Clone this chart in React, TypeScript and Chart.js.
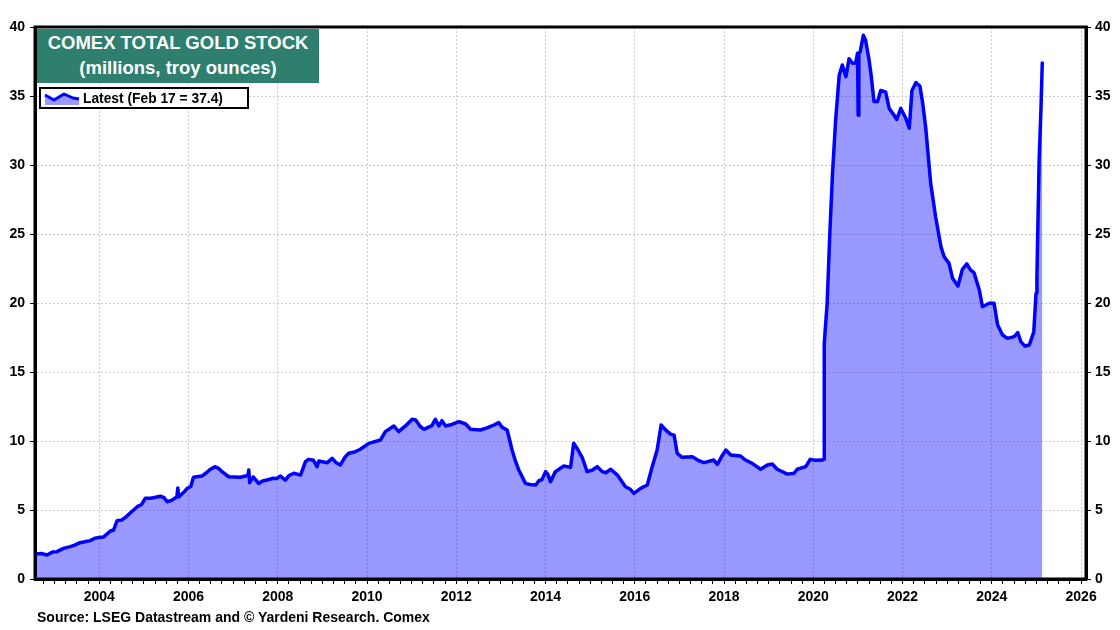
import React, { useEffect, useRef } from "react";
import { Chart, registerables } from "chart.js";

Chart.register(...registerables);

// Decimal-year dates of the observations
const dates: number[] = [
  2002.57, 2002.7, 2002.83, 2002.95, 2003.05, 2003.2, 2003.35, 2003.45, 2003.57, 2003.7,
  2003.8, 2003.9, 2003.98, 2004.1, 2004.25, 2004.32, 2004.4, 2004.51, 2004.6, 2004.7,
  2004.85, 2004.95, 2005.03, 2005.15, 2005.26, 2005.37, 2005.45, 2005.52, 2005.62, 2005.74,
  2005.76, 2005.78, 2005.9, 2005.97, 2006.05, 2006.11, 2006.3, 2006.4, 2006.49, 2006.6,
  2006.68, 2006.75, 2006.9, 2007.16, 2007.33, 2007.35, 2007.37, 2007.45, 2007.57, 2007.66,
  2007.76, 2007.9, 2007.98, 2008.06, 2008.17, 2008.25, 2008.36, 2008.51, 2008.62, 2008.69,
  2008.8, 2008.88, 2008.92, 2009.11, 2009.22, 2009.3, 2009.4, 2009.5, 2009.59, 2009.72,
  2009.85, 2010.04, 2010.3, 2010.41, 2010.6, 2010.71, 2010.86, 2011.01, 2011.09, 2011.18,
  2011.27, 2011.38, 2011.45, 2011.53, 2011.61, 2011.68, 2011.76, 2011.9, 2012.06, 2012.21,
  2012.32, 2012.54, 2012.69, 2012.84, 2012.95, 2013.03, 2013.14, 2013.25, 2013.33, 2013.4,
  2013.55, 2013.65, 2013.78, 2013.85, 2013.92, 2014.0, 2014.05, 2014.11, 2014.22, 2014.41,
  2014.56, 2014.63, 2014.7, 2014.82, 2014.93, 2015.05, 2015.16, 2015.27, 2015.35, 2015.46,
  2015.61, 2015.79, 2015.9, 2015.98, 2016.13, 2016.28, 2016.39, 2016.5, 2016.59, 2016.69,
  2016.8, 2016.88, 2016.95, 2017.06, 2017.29, 2017.42, 2017.55, 2017.77, 2017.85, 2017.95,
  2018.04, 2018.15, 2018.37, 2018.48, 2018.63, 2018.82, 2018.97, 2019.08, 2019.19, 2019.42,
  2019.57, 2019.64, 2019.83, 2019.93, 2020.05, 2020.2, 2020.24, 2020.245, 2020.31, 2020.37,
  2020.43, 2020.5, 2020.58, 2020.65, 2020.73, 2020.8, 2020.88, 2020.95, 2020.99, 2021.005,
  2021.02, 2021.05, 2021.12, 2021.17, 2021.25, 2021.29, 2021.36, 2021.44, 2021.51, 2021.62,
  2021.7, 2021.81, 2021.87, 2021.96, 2022.07, 2022.15, 2022.21, 2022.3, 2022.39, 2022.45,
  2022.52, 2022.63, 2022.74, 2022.86, 2022.93, 2023.04, 2023.12, 2023.24, 2023.34, 2023.44,
  2023.52, 2023.6, 2023.72, 2023.79, 2023.94, 2024.05, 2024.13, 2024.24, 2024.35, 2024.5,
  2024.58, 2024.65, 2024.74, 2024.84, 2024.94, 2024.99, 2025.01, 2025.06, 2025.1, 2025.13,
];

// COMEX total gold stock, millions of troy ounces
const goldStock: number[] = [
  1.81, 1.85, 1.74, 1.95, 1.98, 2.22, 2.35, 2.45, 2.63, 2.72,
  2.78, 2.95, 3.0, 3.05, 3.48, 3.55, 4.23, 4.28, 4.5, 4.8,
  5.24, 5.4, 5.85, 5.85, 5.92, 6.0, 5.9, 5.6, 5.7, 5.96,
  6.6, 5.95, 6.3, 6.57, 6.7, 7.37, 7.46, 7.7, 7.95, 8.14,
  8.0, 7.78, 7.41, 7.37, 7.5, 7.9, 6.98, 7.4, 6.93, 7.1,
  7.17, 7.3, 7.29, 7.46, 7.17, 7.5, 7.66, 7.53, 8.5, 8.67,
  8.6, 8.14, 8.55, 8.43, 8.74, 8.45, 8.26, 8.8, 9.11, 9.2,
  9.4, 9.83, 10.07, 10.68, 11.09, 10.68, 11.09, 11.57, 11.52, 11.1,
  10.85, 11.0, 11.1, 11.57, 11.1, 11.47, 11.09, 11.2, 11.4, 11.23,
  10.85, 10.8, 10.95, 11.16, 11.33, 10.99, 10.8, 9.35, 8.5, 7.9,
  6.93, 6.85, 6.81, 7.12, 7.2, 7.78, 7.6, 7.05, 7.78, 8.19,
  8.09, 9.83, 9.5, 8.82, 7.78, 7.9, 8.14, 7.78, 7.7, 7.95,
  7.53, 6.69, 6.5, 6.21, 6.57, 6.81, 8.14, 9.35, 11.16, 10.8,
  10.5, 10.43, 9.11, 8.82, 8.86, 8.6, 8.43, 8.62, 8.3, 8.9,
  9.35, 8.99, 8.91, 8.62, 8.38, 7.95, 8.26, 8.33, 7.95, 7.6,
  7.66, 7.95, 8.14, 8.67, 8.6, 8.62, 8.67, 17.08, 19.98, 25.05,
  29.4, 33.26, 36.5, 37.25, 36.4, 37.7, 37.37, 37.4, 38.1, 33.6,
  38.1, 38.2, 39.4, 39.06, 37.6, 36.65, 34.6, 34.6, 35.4, 35.3,
  34.1, 33.6, 33.3, 34.1, 33.4, 32.66, 35.4, 35.97, 35.7, 34.5,
  32.66, 28.67, 26.25, 24.08, 23.36, 22.88, 21.79, 21.23, 22.44, 22.83,
  22.4, 22.2, 20.94, 19.73, 19.98, 19.98, 18.4, 17.68, 17.44, 17.56,
  17.85, 17.2, 16.88, 16.96, 17.92, 20.7, 21.9, 30.36, 33.99, 37.4,
];

const xMin = 2002.56;
const xMax = 2026.11;
const yTicks: number[] = [0, 5, 10, 15, 20, 25, 30, 35, 40];
const yearLabels: number[] = [2004, 2006, 2008, 2010, 2012, 2014, 2016, 2018, 2020, 2022, 2024, 2026];

const titleLine1 = "COMEX TOTAL GOLD STOCK";
const titleLine2 = "(millions, troy ounces)";
const legendLabel = "Latest (Feb 17 = 37.4)";
const sourceText = "Source: LSEG Datastream and \u00A9 Yardeni Research. Comex";

const FONT = "Arial, 'Liberation Sans', Helvetica, sans-serif";

export default function App() {
  const canvasRef = useRef<HTMLCanvasElement | null>(null);

  useEffect(() => {
    const canvas = canvasRef.current;
    if (!canvas) return;
    const points = dates.map((d, i) => ({ x: d, y: goldStock[i] }));

    const framePlugin = {
      id: "frame",
      afterDraw(chart: any) {
        const { ctx, chartArea } = chart;
        ctx.save();
        ctx.setLineDash([]);
        ctx.strokeStyle = "#000";
        ctx.lineWidth = 3;
        ctx.strokeRect(chartArea.left, chartArea.top, chartArea.right - chartArea.left, chartArea.bottom - chartArea.top);
        ctx.restore();
      },
    };

    const isLabelYear = (v: number) => yearLabels.includes(v);

    const chart = new Chart(canvas, {
      type: "line",
      data: {
        datasets: [
          {
            label: legendLabel,
            data: points,
            borderColor: "#0000ff",
            borderWidth: 3.5,
            backgroundColor: "rgba(0,0,255,0.4)",
            fill: "origin",
            pointRadius: 0,
            tension: 0,
            borderJoinStyle: "round",
            borderCapStyle: "round",
          },
        ],
      },
      options: {
        animation: false,
        responsive: false,
        maintainAspectRatio: false,
        layout: { padding: { top: 27, left: 0, right: 0, bottom: 0 } },
        plugins: {
          legend: { display: false },
          tooltip: { enabled: false },
        },
        scales: {
          x: {
            type: "linear",
            min: xMin,
            max: xMax,
            afterBuildTicks: (scale: any) => {
              const t: { value: number }[] = [];
              for (let k = 0; ; k++) {
                const v = 2002.75 + 0.25 * k;
                if (v > 2026) break;
                t.push({ value: v });
              }
              scale.ticks = t;
            },
            afterFit: (scale: any) => {
              scale.height = 51;
            },
            ticks: {
              autoSkip: false,
              maxRotation: 0,
              minRotation: 0,
              padding: 5,
              color: "#000",
              font: { family: FONT, size: 14, weight: "bold" },
              callback: (v: any) => (isLabelYear(Number(v)) ? String(v) : ""),
            },
            grid: {
              color: (ctx: any) =>
                ctx.tick && isLabelYear(ctx.tick.value) ? "#cccccc" : "rgba(0,0,0,0)",
              lineWidth: 1,
              tickLength: 5,
              tickColor: "#000",
              tickWidth: 1,
            },
            border: { display: true, color: "#000", width: 3, dash: [2, 2] },
          },
          y: {
            type: "linear",
            position: "left",
            min: 0,
            max: 40,
            afterBuildTicks: (scale: any) => {
              scale.ticks = yTicks.map((v) => ({ value: v }));
            },
            afterFit: (scale: any) => {
              scale.width = 35;
            },
            ticks: {
              color: "#000",
              padding: 5,
              font: { family: FONT, size: 14, weight: "bold" },
            },
            grid: {
              color: (ctx: any) =>
                ctx.tick && (ctx.tick.value === 0 || ctx.tick.value === 40)
                  ? "rgba(0,0,0,0)"
                  : "#cccccc",
              lineWidth: 1,
              tickLength: 5,
              tickColor: "#000",
            },
            border: { display: true, color: "#000", width: 3, dash: [2, 2] },
          },
          y2: {
            type: "linear",
            position: "right",
            min: 0,
            max: 40,
            afterBuildTicks: (scale: any) => {
              scale.ticks = yTicks.map((v) => ({ value: v }));
            },
            afterFit: (scale: any) => {
              scale.width = 34;
            },
            ticks: {
              color: "#000",
              padding: 4,
              font: { family: FONT, size: 14, weight: "bold" },
            },
            grid: {
              drawOnChartArea: false,
              tickLength: 5,
              tickColor: "#000",
            },
            border: { display: true, color: "#000", width: 3 },
          },
        },
      },
      plugins: [framePlugin],
    } as any);

    return () => {
      chart.destroy();
    };
  }, []);

  return (
    <div
      style={{
        position: "fixed",
        left: 0,
        top: 0,
        width: 1120,
        height: 630,
        background: "#fff",
        overflow: "hidden",
        fontFamily: FONT,
      }}
    >
      <canvas ref={canvasRef} width={1120} height={630} style={{ position: "absolute", left: 0, top: 0 }} />
      <div
        style={{
          position: "absolute",
          left: 37,
          top: 29,
          width: 282,
          height: 54,
          background: "#2f7f6e",
          color: "#fff",
          fontWeight: "bold",
          fontSize: 18.5,
          lineHeight: "25px",
          textAlign: "center",
          paddingTop: 1,
          boxSizing: "border-box",
        }}
      >
        <div>{titleLine1}</div>
        <div>{titleLine2}</div>
      </div>
      <div
        style={{
          position: "absolute",
          left: 39,
          top: 87,
          width: 210,
          height: 22,
          border: "2px solid #000",
          background: "#fff",
          boxSizing: "border-box",
          display: "flex",
          alignItems: "center",
        }}
      >
        <svg width={36} height={16} style={{ marginLeft: 3, flex: "none" }}>
          <polygon points="1,5 10,10 20,4 29,8 35,9 35,15 1,15" fill="rgba(0,0,255,0.4)" />
          <polyline
            points="1,5 10,10 20,4 29,8 35,9"
            fill="none"
            stroke="#0000ff"
            strokeWidth={3}
            strokeLinejoin="round"
          />
        </svg>
        <span style={{ marginLeft: 3, fontWeight: "bold", fontSize: 13.8, color: "#000", whiteSpace: "nowrap" }}>
          {legendLabel}
        </span>
      </div>
      <div
        style={{
          position: "absolute",
          left: 37,
          top: 609,
          fontWeight: "bold",
          fontSize: 14,
          color: "#000",
          whiteSpace: "nowrap",
        }}
      >
        {sourceText}
      </div>
    </div>
  );
}
